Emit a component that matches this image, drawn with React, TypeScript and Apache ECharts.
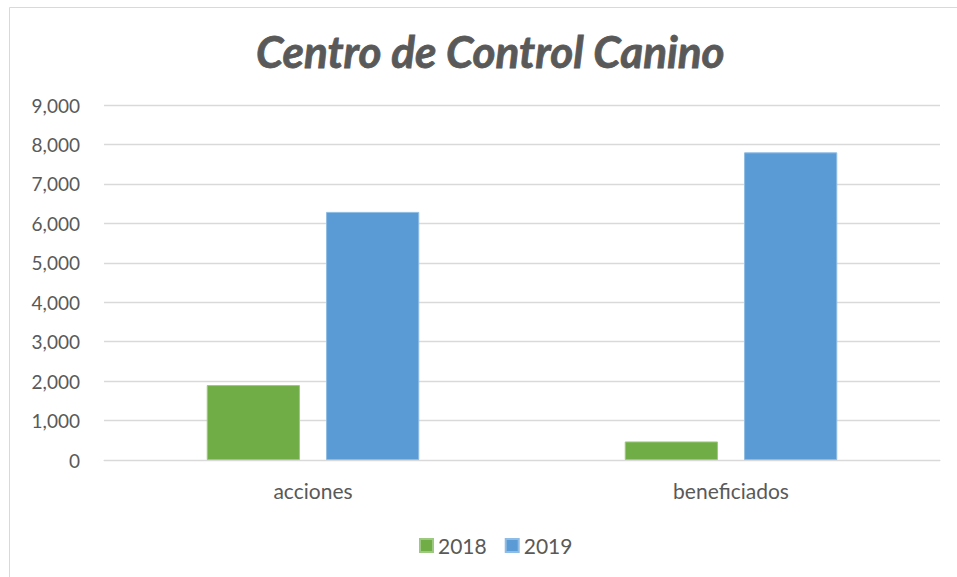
import React, { useEffect, useRef } from "react";
import * as echarts from "echarts";

const categories = ["acciones", "beneficiados"];
const values2018 = [1900, 470];
const values2019 = [6290, 7800];
const seriesNames = ["2018", "2019"];

export default function App() {
  const ref = useRef<HTMLDivElement>(null);
  useEffect(() => {
    if (!ref.current) return;
    const chart = echarts.init(ref.current, null, { renderer: "svg" });
    const font = "Lato, 'Open Sans', sans-serif";
    chart.setOption({
      animation: false,
      backgroundColor: "#ffffff",
      textStyle: { fontFamily: font },
      title: {
        text: "Centro de Control Canino",
        left: 256,
        top: 29,
        padding: 0,
        textStyle: {
          fontFamily: font,
          fontSize: 44,
          fontWeight: "bold",
          fontStyle: "italic",
          color: "#595959",
          textBorderColor: "#595959",
          textBorderWidth: 0.8,
        },
      },
      graphic: [
        {
          type: "rect",
          shape: { x: 9.5, y: 7.5, width: 970, height: 590 },
          style: { fill: "none", stroke: "#d9d9d9", lineWidth: 1 },
          silent: true,
        },
      ],
      legend: {
        data: seriesNames,
        bottom: 16,
        left: 414,
        itemWidth: 13,
        itemHeight: 13,
        itemGap: 18,
        icon: "rect",
        textStyle: { fontSize: 21, color: "#595959", fontFamily: font },
      },
      grid: { left: 104, right: 17, top: 105, bottom: 117 },
      xAxis: {
        type: "category",
        data: categories,
        axisLine: { lineStyle: { color: "#d9d9d9" } },
        axisTick: { show: false },
        axisLabel: { color: "#595959", fontSize: 21, margin: 20, fontFamily: font },
      },
      yAxis: {
        type: "value",
        min: 0,
        max: 9000,
        interval: 1000,
        axisLine: { show: false },
        axisTick: { show: false },
        splitLine: { lineStyle: { color: "#d9d9d9", width: 1.3 } },
        axisLabel: {
          color: "#595959",
          fontSize: 19,
          margin: 24,
          fontFamily: font,
          formatter: (v: number) => v.toLocaleString("en-US"),
        },
      },
      series: [
        {
          name: seriesNames[0],
          type: "bar",
          data: values2018,
          barWidth: "22.3%",
          barGap: "28%",
          itemStyle: { color: "#70ad47", borderColor: "#9cc97f", borderWidth: 1 },
        },
        {
          name: seriesNames[1],
          type: "bar",
          data: values2019,
          barWidth: "22.3%",
          barGap: "28%",
          itemStyle: { color: "#5b9bd5", borderColor: "#8fbce5", borderWidth: 1 },
        },
      ],
    });
    return () => chart.dispose();
  }, []);
  return (
    <div
      ref={ref}
      style={{ position: "fixed", left: 0, top: 0, width: 957, height: 577 }}
    />
  );
}
